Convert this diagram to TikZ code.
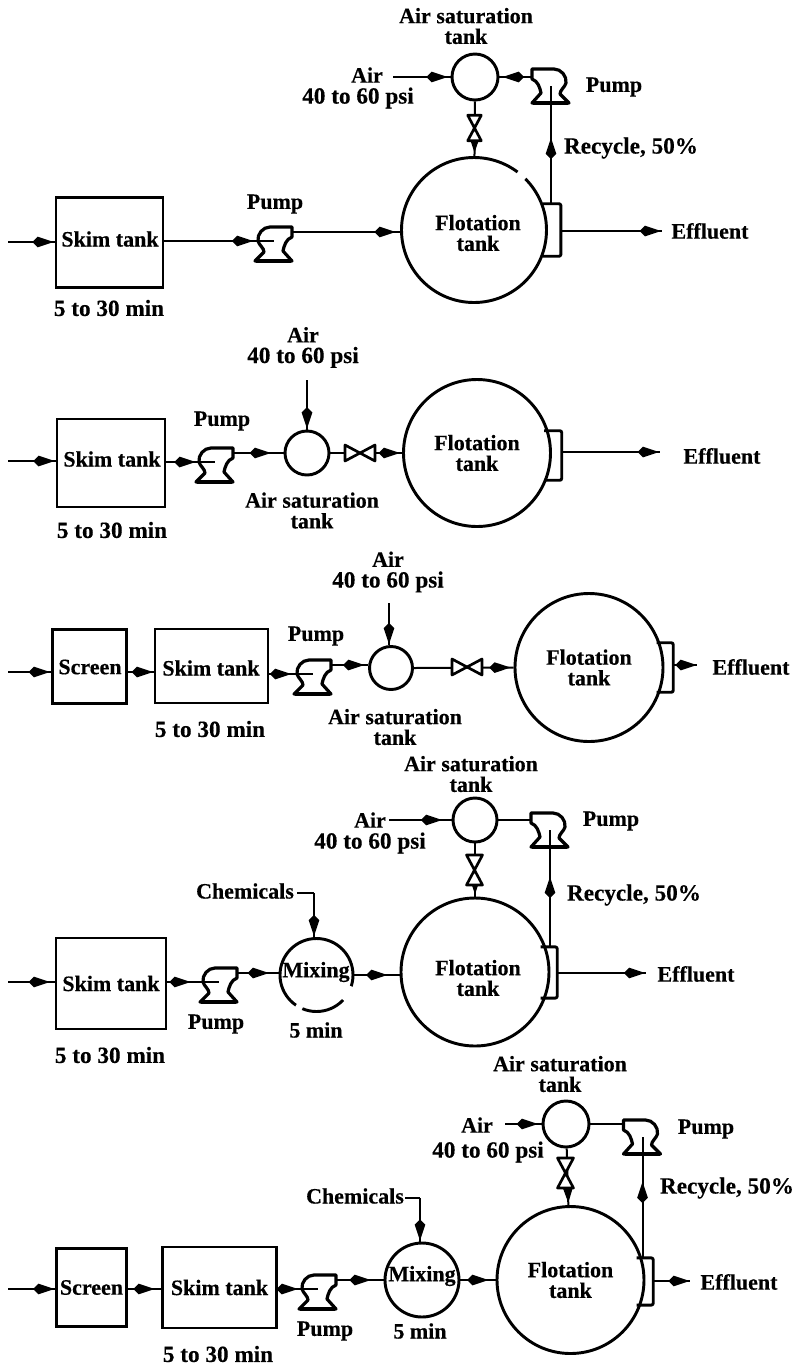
\documentclass[tikz,border=0pt]{standalone}
\usepackage{fontspec}
\setmainfont[BoldFeatures={FakeBold=0.4}]{Liberation Serif}
\usetikzlibrary{arrows.meta,decorations.markings,calc}
\newcommand{\widertext}{\fontsize{17.4}{15.5}\selectfont}
\tikzset{
  x=0.75pt,y=-0.75pt,
  lab/.style={font=\bfseries\fontsize{16.5}{15.5}\selectfont,align=center,inner sep=0pt},
  widelab/.style={font=\bfseries\widertext,align=center,inner sep=0pt},
  vessel/.style={draw,line width=2.2pt,rectangle,inner sep=0pt,lab},
  tankc/.style={draw,line width=2.2pt,circle,inner sep=0pt,minimum size=#1*0.75pt,lab},
  weirbox/.style={rectangle,inner sep=0pt},
  weirline/.style={line width=2.2pt,line join=round,rounded corners=1.5pt},
  pipe/.style={line width=1.5pt},
  flow/.style={pipe,postaction={decorate},decoration={markings,mark=at position #1 with {\arrow{Kite[length=16pt,width=8pt,inset=4pt]}}}},
  gap/.style={white,line width=4.5pt},
  pump/.pic={
    \coordinate (-in) at (1,-3);
    \coordinate (-out) at (19,-12);
    \coordinate (-c) at (0,0);
    \draw[line width=2.4pt,line join=round]
      (19,-7) -- (19,-17) -- (-3,-17) .. controls (-10,-17) and (-16,-10) .. (-15,-3)
      .. controls (-14,1) and (-9,4) .. (-9,8) -- (-18,17) -- (19,17) -- (10,7)
      .. controls (11,2) and (13,-5) .. (19,-7) -- cycle;
    \draw[line width=3pt] (-17,16.5) -- (18,16.5);
  },
  valve/.pic={
    \draw[line width=2pt,fill=white,line join=round]
      (-15,-8) -- (15,8) -- (15,-8) -- (-15,8) -- cycle;
  },
}
\begin{document}
\begin{tikzpicture}
\useasboundingbox (0,0) rectangle (796,1365);
\fill[white] (0,0) rectangle (796,1365);

% ---------- Diagram 1 ----------
\coordinate (in1) at (8,242);
\coordinate (ef1) at (662,231);
\coordinate (air1) at (393,77);
\node[vessel,minimum width=80.25pt,minimum height=68pt] (skim1) at (109.5,242.5) {};
\node[lab] (t10) at (110,239) {Skim tank};
\node[widelab] (t11) at (109,308) {5 to 30 min};
\node[lab] (t12) at (275,204) {Pump};
\node[tankc=145] (fl1) at (474,230) {};
\node[lab] (t19) at (478,233) {Flotation\\tank};
\node[tankc=46] (sat1) at (475,77) {};
\node[weirbox,minimum width=13pt,minimum height=39pt] (w1) at (552,230) {};
\node[lab] (t13) at (710,231) {Effluent};
\node[widelab] (t14) at (631,148) {Recycle, 50\%};
\node[lab] (t15) at (614,87) {Pump};
\node[lab] (t16) at (367,75) {Air};
\node[widelab] (t17) at (358,98) {40 to 60 psi};
\node[lab] (t18) at (466,26) {Air saturation\\tank};
\draw[gap] (474,230) ++(-45:72.5) arc[start angle=-45,end angle=-53,radius=72.5];
\pic (p11) at (273,244) {pump};
\pic[xscale=-1] (p12) at (551,86) {pump};
\draw[weirline] (w1.north west) -- (w1.north east) -- (w1.south east) -- (w1.south west);
\draw[flow=.98] (in1) -- (in1 -| skim1.west);
\draw[flow=.81] (skim1.east |- p11-in) -- (p11-in);
\draw[flow=.96] (p11-out) -- (p11-out -| fl1.west);
\draw[flow=.99] (w1.east |- ef1) -- (ef1);
\draw[flow=.56] (w1.north -| p12-c) -- (p12-c);
\draw[flow=.95] (air1) -- (sat1.west);
\draw[flow=.9] (sat1.east -| p12-out) -- (sat1.east);
\draw[flow=.94] (sat1) -- (fl1);
\pic[rotate=90,scale=.85] (v1) at (474.5,128) {valve};

% ---------- Diagram 2 ----------
\coordinate (in2) at (8,461);
\coordinate (ef2) at (660,452);
\node[vessel,minimum width=81pt,minimum height=66pt] (skim2) at (111,463) {};
\node[lab] (t20) at (112,459) {Skim tank};
\node[widelab] (t21) at (112,530) {5 to 30 min};
\node[lab] (t22) at (222,421) {Pump};
\node[tankc=147] (fl2) at (477,453) {Flotation\\tank};
\node[tankc=44] (sat2) at (307,453) {};
\node[weirbox,minimum width=12.75pt,minimum height=36.75pt] (w2) at (553,455.5) {};
\node[lab] (t23) at (722,456) {Effluent};
\node[lab] (t24) at (303,347.5) {Air\\\widertext 40 to 60 psi};
\node[lab] (t25) at (312,510.5) {Air saturation\\tank};
\coordinate (air2) at (307,380);
\pic (p21) at (214,465) {pump};
\draw[weirline] (w2.north west) -- (w2.north east) -- (w2.south east) -- (w2.south west);
\draw[flow=.98] (in2) -- (in2 -| skim2.west);
\draw[flow=.6] (skim2.east |- p21-in) -- (p21-in);
\draw[flow=.75] (p21-out) -- (sat2.west);
\draw[flow=.98] (air2) -- (sat2.north);
\draw[flow=.97] (sat2.east) -- (fl2.west);
\draw[flow=.99] (w2.east |- ef2) -- (ef2);
\pic (v2) at (360,453) {valve};

% ---------- Diagram 3 ----------
\coordinate (in3) at (8,672);
\coordinate (ef3) at (697,665);
\node[vessel,minimum width=56pt,minimum height=55.5pt] (scr3) at (89.5,666.5) {};
\node[lab] (t30) at (90,667) {Screen};
\node[vessel,minimum width=84.75pt,minimum height=55.5pt] (skim3) at (211.5,666) {};
\node[lab] (t3b) at (211,668) {Skim tank};
\node[widelab] (t31) at (210,729) {5 to 30 min};
\node[lab] (t32) at (316,636) {Pump};
\node[tankc=148] (fl3) at (589,667.5) {Flotation\\tank};
\node[tankc=43] (sat3) at (391,668) {};
\node[weirbox,minimum width=12pt,minimum height=36.75pt] (w3) at (665,667.5) {};
\node[lab] (t33) at (751,667) {Effluent};
\node[lab] (t34) at (388,572) {Air\\\widertext 40 to 60 psi};
\node[lab] (t35) at (395,727) {Air saturation\\tank};
\coordinate (air3) at (389,603);
\pic (p31) at (312,677) {pump};
\draw[weirline] (w3.north west) -- (w3.north east) -- (w3.south east) -- (w3.south west);
\draw[flow=.98] (in3) -- (in3 -| scr3.west);
\draw[flow=.98] (in3 -| scr3.east) -- (in3 -| skim3.west);
\draw[flow=.5] (skim3.east |- p31-in) -- (p31-in);
\draw[flow=.9] (p31-out) -- (p31-out -| sat3.west);
\draw[flow=.98] (air3) -- (air3 |- sat3.north);
\draw[flow=.97] (sat3.east) -- (fl3.west);
\draw[flow=.99] (w3.east |- ef3) -- (ef3);
\pic (v3) at (467,667) {valve};

% ---------- Diagram 4 ----------
\coordinate (in4) at (8,982);
\coordinate (ef4) at (646,973);
\coordinate (air4) at (389,820);
\coordinate (ch4a) at (297,893);
\coordinate (ch4b) at (314,893);
\node[vessel,minimum width=82.5pt,minimum height=68.25pt] (skim4) at (111,983.5) {Skim tank};
\node[widelab] (t41) at (110,1055) {5 to 30 min};
\node[lab] (t42) at (216,1024) {Pump};
\node[tankc=73] (mx4) at (316.5,975) {};
\node[lab] (t43) at (316,972) {Mixing};
\node[lab] (t44) at (316,1030) {5 min};
\node[lab] (t45) at (245,891) {Chemicals};
\node[tankc=148] (fl4) at (475,972) {};
\node[lab] (t4b) at (478,978) {Flotation\\tank};
\node[tankc=44] (sat4) at (475,820) {};
\node[weirbox,minimum width=12pt,minimum height=38pt] (w4) at (549,972.5) {};
\node[lab] (t46) at (696,974) {Effluent};
\node[widelab] (t47) at (634,895) {Recycle, 50\%};
\node[lab] (t48) at (611,821) {Pump};
\node[lab] (t49) at (370,820) {Air};
\node[widelab] (t40) at (370,843) {40 to 60 psi};
\node[lab] (t4a) at (471,774) {Air saturation\\tank};
\draw[gap] (316.5,975) ++(18:36.5) arc[start angle=18,end angle=43,radius=36.5];
\draw[gap] (316.5,975) ++(113:36.5) arc[start angle=113,end angle=124,radius=36.5];
\pic (p41) at (218,985) {pump};
\pic[xscale=-1] (p42) at (550,830) {pump};
\draw[weirline] (w4.north west) -- (w4.north east) -- (w4.south east) -- (w4.south west);
\draw[flow=.9] (in4) -- (in4 -| skim4.west);
\draw[flow=.45] (skim4.east |- p41-in) -- (p41-in);
\draw[flow=.77] (p41-out) -- (p41-out -| mx4.west);
\draw[pipe] (ch4a) -- (ch4b);
\draw[flow=.98] (ch4b) -- (ch4b |- mx4.north);
\draw[flow=.73] (mx4.east) -- (mx4.east -| fl4.west);
\draw[flow=.99] (w4.east |- ef4) -- (ef4);
\draw[flow=.6] (w4.north -| p42-c) -- (p42-c);
\draw[flow=.85] (air4) -- (sat4.west);
\draw[pipe] (sat4.east) -- (sat4.east -| p42-out);
\draw[flow=.96] (sat4) -- (fl4);
\pic[rotate=90] (v4) at (474.5,870) {valve};

% ---------- Diagram 5 ----------
\coordinate (in5) at (8,1289);
\coordinate (ef5) at (690,1281);
\coordinate (air5) at (505,1124);
\coordinate (ch5a) at (405,1198);
\coordinate (ch5b) at (420,1198);
\node[vessel,minimum width=52pt,minimum height=59pt] (scr5) at (91.5,1287.5) {Screen};
\node[vessel,minimum width=85pt,minimum height=60.75pt] (skim5) at (219.5,1287.5) {Skim tank};
\node[widelab] (t51) at (218,1354) {5 to 30 min};
\node[lab] (t52) at (325,1331) {Pump};
\node[tankc=74] (mx5) at (422,1280) {};
\node[lab] (t53) at (422,1276) {Mixing};
\node[lab] (t54) at (420,1331) {5 min};
\node[lab] (t55) at (355,1196) {Chemicals};
\node[tankc=147] (fl5) at (570.5,1280) {Flotation\\tank};
\node[tankc=46] (sat5) at (566,1124) {};
\node[weirbox,minimum width=12pt,minimum height=35pt] (w5) at (645,1281.5) {};
\node[lab] (t56) at (739,1282) {Effluent};
\node[widelab] (t57) at (727,1188) {Recycle, 50\%};
\node[lab] (t58) at (706,1129) {Pump};
\node[lab] (t59) at (477,1125) {Air};
\node[widelab] (t50) at (488,1152) {40 to 60 psi};
\node[lab] (t5a) at (560,1074) {Air saturation\\tank};
\pic (p51) at (317,1292) {pump};
\pic[xscale=-1] (p52) at (642.5,1137) {pump};
\draw[weirline] (w5.north west) -- (w5.north east) -- (w5.south east) -- (w5.south west);
\draw[flow=.98] (in5) -- (in5 -| scr5.west);
\draw[flow=.8] (scr5.east |- in5) -- (in5 -| skim5.west);
\draw[flow=.5] (skim5.east |- p51-in) -- (p51-in);
\draw[flow=.73] (p51-out) -- (p51-out -| mx5.west);
\draw[pipe] (ch5a) -- (ch5b);
\draw[flow=.98] (ch5b) -- (ch5b |- mx5.north);
\draw[flow=.8] (mx5.east) -- (mx5.east -| fl5.west);
\draw[flow=.99] (w5.east |- ef5) -- (ef5);
\draw[flow=.63] (w5.north -| p52-c) -- (p52-c);
\draw[flow=.9] (air5) -- (sat5.west);
\draw[pipe] (sat5.east) -- (sat5.east -| p52-out);
\draw[flow=.96] (sat5) -- (fl5);
\pic[rotate=90] (v5) at (565.5,1173) {valve};
\end{tikzpicture}
\end{document}
